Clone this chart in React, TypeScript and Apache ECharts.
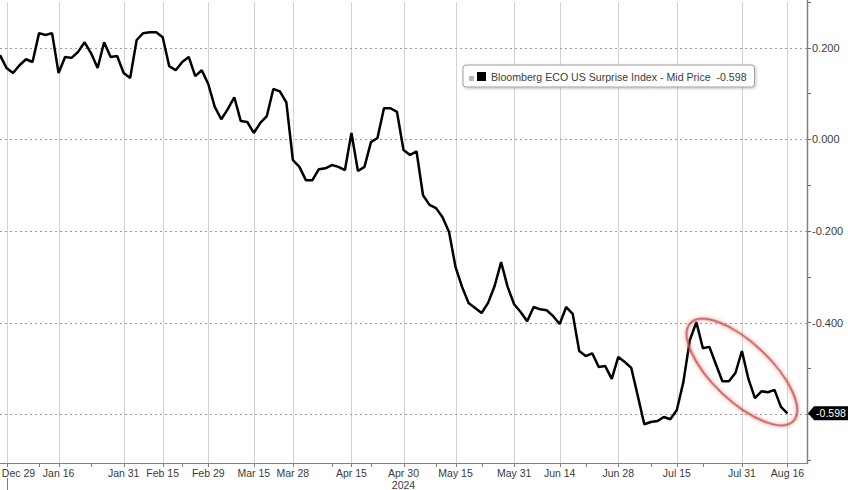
import React, { useEffect, useRef } from 'react';
import * as echarts from 'echarts';

const seriesName = 'Bloomberg ECO US Surprise Index - Mid Price';

// One value per slot (roughly one per trading day)
const values = [
  0.184, 0.156, 0.145, 0.162, 0.175, 0.169, 0.232, 0.228, 0.232, 0.145,
  0.180, 0.178, 0.191, 0.212, 0.188, 0.156, 0.212, 0.180, 0.182, 0.145,
  0.134, 0.217, 0.232, 0.234, 0.234, 0.223, 0.160, 0.151, 0.169, 0.180,
  0.138, 0.151, 0.121, 0.071, 0.044, 0.066, 0.092, 0.040, 0.038, 0.014,
  0.036, 0.051, 0.110, 0.105, 0.081, -0.045, -0.060, -0.089, -0.089, -0.065,
  -0.063, -0.056, -0.060, -0.067, 0.014, -0.069, -0.060, -0.006, 0.003, 0.068,
  0.068, 0.060, -0.023, -0.034, -0.026, -0.122, -0.143, -0.150, -0.170, -0.202,
  -0.279, -0.322, -0.357, -0.368, -0.379, -0.357, -0.320, -0.268, -0.322, -0.360,
  -0.377, -0.397, -0.366, -0.371, -0.373, -0.386, -0.403, -0.366, -0.381, -0.462,
  -0.473, -0.467, -0.497, -0.495, -0.523, -0.475, -0.486, -0.499, -0.560, -0.622,
  -0.617, -0.615, -0.606, -0.611, -0.591, -0.530, -0.438, -0.399, -0.456, -0.453,
  -0.491, -0.528, -0.528, -0.510, -0.462, -0.523, -0.565, -0.550, -0.552, -0.547,
  -0.584, -0.598,
];

const slotCount = 125;

const tickLabels = [
  'Dec 29', 'Jan 16', 'Jan 31', 'Feb 15', 'Feb 29', 'Mar 15', 'Mar 28', 'Apr 15',
  'Apr 30\n2024', 'May 15', 'May 31', 'Jun 14', 'Jun 28', 'Jul 15', 'Jul 31', 'Aug 16',
];
const tickSlots = [1, 9, 19, 25, 32, 39, 45, 54, 62, 70, 79, 86, 95, 104, 114, 121];
const extraTickSlots = [6, 14, 28, 51, 57, 67, 74, 90, 100, 108];

const gridValues = [0.2, 0, -0.2, -0.4, -0.6];

// annotation ellipse centre, in data coordinates
const highlightSlot = 114;
const highlightValue = -0.508;

export default function App() {
  const ref = useRef<HTMLDivElement>(null);

  useEffect(() => {
    if (!ref.current) return;
    const chart = echarts.init(ref.current, null, { renderer: 'svg' });
    const labelMap = new Map<number, string>(tickSlots.map((s, i) => [s, tickLabels[i]]));
    const categories = Array.from({ length: slotCount }, (_, i) => 's' + i);
    const last = values[values.length - 1];
    const font = '"Liberation Sans", Arial, sans-serif';
    const gridColor = '#9c9c9c';
    const gridDash = [2, 3];
    const axisColor = '#808080';
    const snap = (v: number) => Math.round(v) + 0.5;

    chart.setOption({
      animation: false,
      backgroundColor: '#ffffff',
      grid: {
        left: 0,
        right: 41,
        top: 2,
        bottom: 30,
        containLabel: false,
        outerBoundsMode: 'none',
      },
      legend: {
        left: 463,
        top: 65,
        data: [{ name: seriesName, icon: 'rect' }],
        itemWidth: 9,
        itemHeight: 9,
        padding: [6, 8, 5, 14],
        backgroundColor: '#ffffff',
        borderColor: '#a0a0a0',
        borderWidth: 1,
        borderRadius: 3,
        shadowBlur: 3,
        shadowColor: 'rgba(0,0,0,0.25)',
        shadowOffsetX: 1,
        shadowOffsetY: 1,
        selectedMode: false,
        formatter: (n: string) => `${n}  ${last.toFixed(3)}`,
        textStyle: { fontSize: 10.6, color: '#3c3c3c', fontFamily: font },
      },
      xAxis: {
        type: 'category',
        data: categories,
        boundaryGap: false,
        offset: 3,
        axisLine: { show: false, onZero: false },
        axisTick: { show: false },
        axisLabel: {
          interval: (i: number) => labelMap.has(i),
          formatter: (_v: string, i: number) => {
            const l = labelMap.get(i) || '';
            return i === tickSlots[0] ? `{first|${l}}` : l;
          },
          fontSize: 10.5,
          lineHeight: 12,
          color: '#3a3a3a',
          fontFamily: font,
          margin: 4,
          rich: {
            first: { padding: [0, 0, 0, 24], fontSize: 10.5, color: '#3a3a3a', fontFamily: font },
          },
        },
        splitLine: { show: false },
      },
      yAxis: {
        type: 'value',
        position: 'right',
        min: -0.7,
        max: 0.3,
        interval: 0.1,
        axisLine: { show: false },
        axisTick: { show: true, length: 4, lineStyle: { color: '#6a6a6a' } },
        axisLabel: {
          margin: 5,
          fontSize: 11,
          color: '#3a3a3a',
          fontFamily: font,
          formatter: (v: number) => {
            const k = Math.round(v * 10);
            if (k % 2 !== 0 || k <= -6) return '';
            return (k / 10).toFixed(3);
          },
        },
        splitLine: { show: false },
      },
      series: [
        {
          type: 'line',
          name: seriesName,
          data: values,
          symbol: 'none',
          showSymbol: false,
          lineStyle: { color: '#000000', width: 2.5 },
          itemStyle: { color: '#000000' },
          z: 3,
        },
      ],
    });

    const toPx = (x: number, y: number) =>
      chart.convertToPixel({ xAxisIndex: 0, yAxisIndex: 0 }, [x, y]) as number[];
    const [leftX, topY] = toPx(0, 0.3);
    const [rx, bottomY] = toPx(slotCount - 1, -0.7);
    const [, ly] = toPx(values.length - 1, last);
    const [ex, ey] = toPx(highlightSlot, highlightValue);
    const [dx] = toPx(tickSlots[0], 0);
    const axisTop = Math.round(bottomY + 3);
    const axisX = snap(rx);

    const vGrid = tickSlots.map((s) => {
      const gx = Math.round(toPx(s, 0)[0]);
      return {
        type: 'rect',
        z: 1,
        silent: true,
        shape: { x: gx, y: Math.round(topY), width: 1, height: axisTop - Math.round(topY) },
        style: { fill: '#d2d2d2' },
      };
    });
    const hGrid = gridValues.map((v) => {
      const gy = snap(toPx(0, v)[1]);
      return {
        type: 'line',
        z: 1,
        silent: true,
        shape: { x1: leftX, y1: gy, x2: axisX, y2: gy },
        style: { stroke: gridColor, lineWidth: 1, lineDash: gridDash },
      };
    });
    const ticks = [...tickSlots, ...extraTickSlots].map((s) => {
      const tx = Math.round(toPx(s, 0)[0]);
      return {
        type: 'rect',
        z: 100,
        silent: true,
        shape: { x: tx, y: axisTop, width: 1, height: 4 },
        style: { fill: axisColor },
      };
    });

    chart.setOption({
      graphic: [
        ...vGrid,
        ...hGrid,
        {
          type: 'rect',
          z: 50,
          silent: true,
          shape: { x: leftX, y: axisTop, width: Math.round(rx) - leftX + 1, height: 1 },
          style: { fill: axisColor },
        },
        {
          type: 'line',
          z: 50,
          silent: true,
          shape: { x1: axisX, y1: 0, x2: axisX, y2: axisTop + 1 },
          style: { stroke: axisColor, lineWidth: 1.5 },
        },
        {
          type: 'polygon',
          z: 100,
          shape: {
            points: [
              [rx + 1, ly],
              [rx + 7, ly - 7],
              [rx + 41, ly - 7],
              [rx + 41, ly + 7],
              [rx + 7, ly + 7],
            ],
          },
          style: { fill: '#000000' },
        },
        {
          type: 'text',
          z: 101,
          x: rx + 24,
          y: ly,
          style: {
            text: last.toFixed(3),
            fill: '#ffffff',
            fontSize: 10.5,
            fontFamily: font,
            align: 'center',
            verticalAlign: 'middle',
          },
        },
        {
          type: 'ellipse',
          z: 90,
          x: ex,
          y: ey,
          rotation: -0.76,
          shape: { cx: 0, cy: 0, rx: 71, ry: 29 },
          style: {
            fill: 'none',
            stroke: 'rgba(200,80,80,0.85)',
            lineWidth: 2,
            shadowBlur: 4,
            shadowColor: 'rgba(225,110,110,0.9)',
          },
        },
        {
          type: 'rect',
          z: 100,
          shape: { x: 469, y: 76, width: 5, height: 5 },
          style: { fill: '#b8b8b8' },
        },
        {
          type: 'line',
          z: 100,
          shape: { x1: snap(dx), y1: axisTop + 15, x2: snap(dx), y2: 490 },
          style: { stroke: axisColor, lineWidth: 1 },
        },
        ...ticks,
      ],
    });

    return () => chart.dispose();
  }, []);

  return (
    <div
      ref={ref}
      style={{ position: 'fixed', left: 0, top: 0, width: 848, height: 490 }}
    />
  );
}
